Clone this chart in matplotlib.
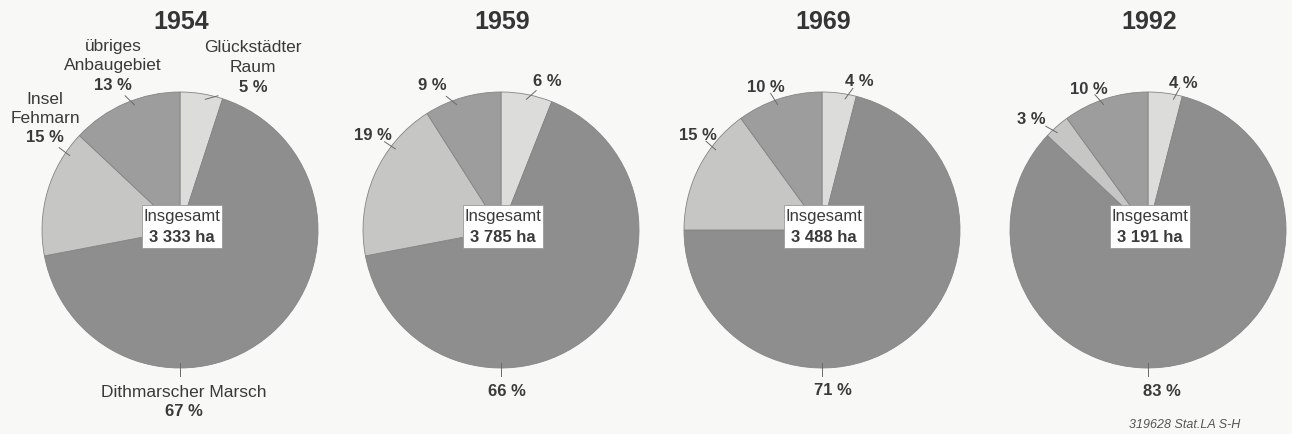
import numpy as np
import matplotlib.pyplot as plt
from matplotlib.patches import Rectangle

plt.rcParams['font.family'] = ['Liberation Sans', 'DejaVu Sans']

# Data
years = ['1954', '1959', '1969', '1992']
regions = ['Glückstädter Raum', 'Dithmarscher Marsch', 'Insel Fehmarn', 'übriges Anbaugebiet']
shares = {
    '1954': [5, 67, 15, 13],
    '1959': [6, 66, 19, 9],
    '1969': [4, 71, 15, 10],
    '1992': [4, 83, 3, 10],
}
totals = {'1954': '3 333', '1959': '3 785', '1969': '3 488', '1992': '3 191'}
colors = ['#dcddda', '#8e8e8e', '#c6c6c4', '#9d9d9d']

# Layout (pixel units, image y downwards)
W, H = 1292, 435
centers_x = [180, 501, 822, 1148]
center_y = 231
radius = 138
# percent label offset (dx, dy) and leader angle per slice, in slice order
label_pos = {
    '1954': [(73, -144, 79), (4, 181, -90), (-135, -93, 146), (-67, -146, 110)],
    '1959': [(46, -149, 79), (6, 161, -90), (-128, -96, 142.5), (-69, -145, 109.5)],
    '1969': [(37, -150, 80), (11, 160, -90), (-124, -96, 143), (-56, -144, 109.5)],
    '1992': [(35, -148, 79), (14, 161, -90), (-117, -112, 133), (-59, -142, 109.5)],
}
# region names for the first pie, drawn as lines above the percentage
names_1954 = [['Glückstädter', 'Raum'], ['Dithmarscher Marsch'],
              ['Insel', 'Fehmarn'], ['übriges', 'Anbaugebiet']]

bg = '#f8f8f6'
txt = '#3a3a3a'
line_h = 19.5

fig = plt.figure(figsize=(W / 100, H / 100), dpi=100, facecolor=bg)
ax = fig.add_axes([0, 0, 1, 1])
ax.set_xlim(0, W)
ax.set_ylim(0, H)
ax.set_aspect('equal')
ax.axis('off')
ax.set_facecolor(bg)

for i, yr in enumerate(years):
    cx = centers_x[i]
    cy = H - center_y
    ax.pie(shares[yr], colors=colors, startangle=90, counterclock=False,
           center=(cx, cy), radius=radius, frame=True,
           wedgeprops=dict(edgecolor='#858585', linewidth=0.6))

    ax.text(cx + 1, H - 22, yr, ha='center', va='center', fontsize=18,
            fontweight='bold', color='#353535')

    for j, val in enumerate(shares[yr]):
        dx, dy, ang = label_pos[yr][j]
        lx, ly = cx + dx, cy - dy
        a = np.deg2rad(ang)
        ex, ey = cx + 0.965 * radius * np.cos(a), cy + 0.965 * radius * np.sin(a)
        if ang < 0:
            d = np.array([np.cos(a), np.sin(a)])
            ln = 13
        else:
            d = np.array([lx - ex, ly - ey])
            d = d / np.hypot(*d)
            ln = 13
        ax.plot([ex, ex + ln * d[0]], [ey, ey + ln * d[1]], color='#6a6a6a', lw=0.7)

        ax.text(lx, ly, f'{val} %', ha='center', va='center', fontsize=12,
                fontweight='bold', color=txt)
        if i == 0:
            lines = names_1954[j]
            for k, s in enumerate(reversed(lines)):
                ax.text(lx, ly + line_h * (k + 1), s, ha='center', va='center',
                        fontsize=12.5, color=txt)

    # centre box
    bw, bh = 80, 43
    bx, by = cx + 2, H - 227
    ax.add_patch(Rectangle((bx - bw / 2, by - bh / 2), bw, bh, facecolor='white',
                           edgecolor='#9a9a9a', lw=0.6, zorder=5))
    ax.text(bx, by + 10, 'Insgesamt', ha='center', va='center', fontsize=12,
            color=txt, zorder=6)
    ax.text(bx, by - 11, f'{totals[yr]} ha', ha='center', va='center', fontsize=12,
            fontweight='bold', color=txt, zorder=6)

ax.text(1240, 10, '319628 Stat.LA S-H', ha='right', va='center', fontsize=9,
        style='italic', color='#555555')

fig.savefig('out.png', dpi=100, facecolor=bg)
